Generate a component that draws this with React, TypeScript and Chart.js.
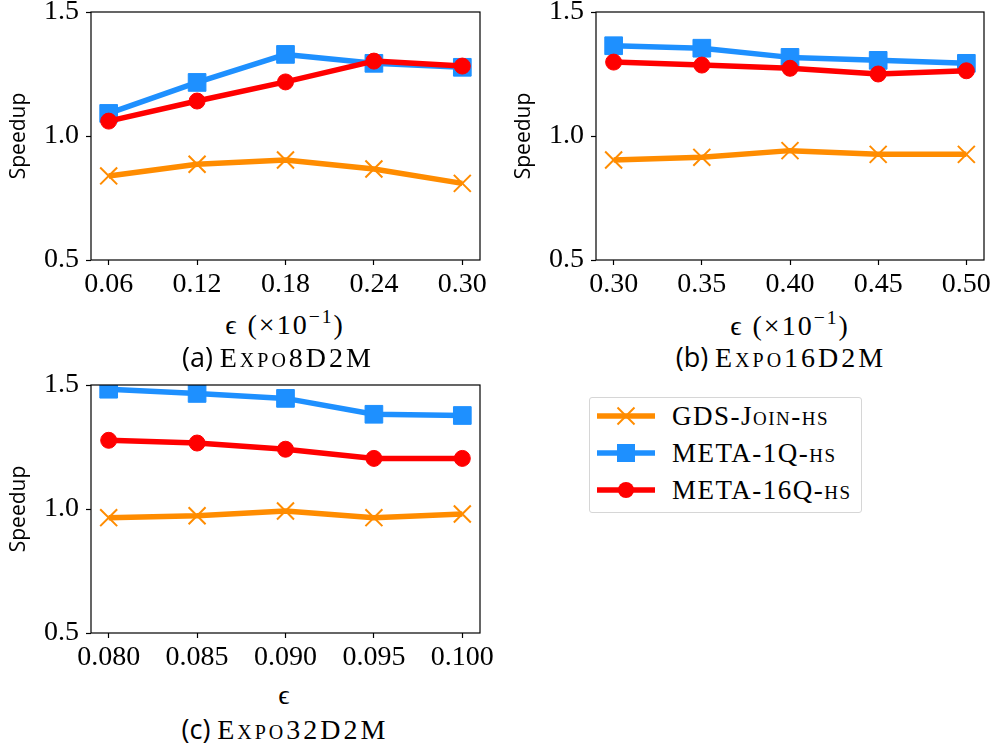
import React, { useEffect, useRef } from "react";
import { Chart, registerables } from "chart.js";
Chart.register(...registerables);

// ---------- data ----------
const SERIES = ["GDS-Join-hs", "META-1Q-hs", "META-16Q-hs"];
const COLORS = ["#FF8C00", "#1E90FF", "#FF0000"];
const Y_TICKS = [0.5, 1.0, 1.5];

const xA = [0.06, 0.12, 0.18, 0.24, 0.3];
const xLabelsA = ["0.06", "0.12", "0.18", "0.24", "0.30"];
const gdsA = [0.839, 0.886, 0.903, 0.867, 0.809];
const meta1A = [1.091, 1.216, 1.329, 1.293, 1.277];
const meta16A = [1.06, 1.141, 1.218, 1.302, 1.282];

const xB = [0.3, 0.35, 0.4, 0.45, 0.5];
const xLabelsB = ["0.30", "0.35", "0.40", "0.45", "0.50"];
const gdsB = [0.903, 0.914, 0.941, 0.926, 0.926];
const meta1B = [1.364, 1.354, 1.317, 1.305, 1.293];
const meta16B = [1.298, 1.286, 1.273, 1.25, 1.263];

const xC = [0.08, 0.085, 0.09, 0.095, 0.1];
const xLabelsC = ["0.080", "0.085", "0.090", "0.095", "0.100"];
const gdsC = [0.965, 0.973, 0.992, 0.965, 0.98];
const meta1C = [1.483, 1.466, 1.446, 1.382, 1.377];
const meta16C = [1.277, 1.266, 1.241, 1.204, 1.204];

// ---------- styling ----------
const TICK_FONT = { family: "'Liberation Serif', 'Times New Roman', serif", size: 28 };
const TEXT_SERIF = "'Liberation Serif', 'DejaVu Serif', serif";
const TEXT_SANS = "'Open Sans', sans-serif";

const framePlugin = {
  id: "frame",
  afterDatasetsDraw(chart: any) {
    const { ctx, chartArea: a } = chart;
    ctx.save();
    ctx.strokeStyle = "#000";
    ctx.lineWidth = 1.2;
    ctx.strokeRect(a.left, a.top, a.right - a.left, a.bottom - a.top);
    ctx.restore();
  },
};

type PanelProps = {
  left: number;
  top: number;
  width: number;
  height: number;
  plot: { left: number; top: number; right: number; bottom: number };
  titlePad: number;
  xs: number[];
  xLabels: string[];
  gds: number[];
  meta1: number[];
  meta16: number[];
};

function Panel(p: PanelProps) {
  const ref = useRef<HTMLCanvasElement | null>(null);
  useEffect(() => {
    if (!ref.current) return;
    const range = p.xs[p.xs.length - 1] - p.xs[0];
    const xmin = p.xs[0] - 0.05 * range;
    const xmax = p.xs[p.xs.length - 1] + 0.05 * range;
    const pts = (ys: number[]) => p.xs.map((x, i) => ({ x, y: ys[i] }));
    const grid = {
      display: true,
      drawOnChartArea: false,
      drawTicks: true,
      tickLength: 5,
      tickWidth: 1.2,
      tickColor: "#000",
    };
    const chart = new Chart(ref.current, {
      type: "line",
      data: {
        datasets: [
          {
            label: SERIES[0],
            data: pts(p.gds),
            borderColor: COLORS[0],
            backgroundColor: COLORS[0],
            borderWidth: 5.5,
            pointStyle: "crossRot",
            pointRadius: 12,
            pointBorderWidth: 2,
            pointBorderColor: COLORS[0],
            pointBackgroundColor: COLORS[0],
            borderJoinStyle: "round",
            tension: 0,
            clip: 0,
            order: 3,
          },
          {
            label: SERIES[1],
            data: pts(p.meta1),
            borderColor: COLORS[1],
            backgroundColor: COLORS[1],
            borderWidth: 5.5,
            pointStyle: "rect",
            pointRadius: 12.5,
            pointBorderWidth: 1,
            pointBorderColor: COLORS[1],
            pointBackgroundColor: COLORS[1],
            borderJoinStyle: "round",
            tension: 0,
            clip: 0,
            order: 2,
          },
          {
            label: SERIES[2],
            data: pts(p.meta16),
            borderColor: COLORS[2],
            backgroundColor: COLORS[2],
            borderWidth: 5.5,
            pointStyle: "circle",
            pointRadius: 8,
            pointBorderWidth: 1,
            pointBorderColor: COLORS[2],
            pointBackgroundColor: COLORS[2],
            borderJoinStyle: "round",
            tension: 0,
            clip: 0,
            order: 1,
          },
        ],
      },
      options: {
        animation: false,
        responsive: false,
        maintainAspectRatio: false,
        devicePixelRatio: 1,
        events: [],
        layout: {
          autoPadding: false,
          padding: { top: p.plot.top, right: p.width - p.plot.right, left: 0, bottom: 0 },
        },
        plugins: { legend: { display: false }, tooltip: { enabled: false } },
        scales: {
          x: {
            type: "linear",
            min: xmin,
            max: xmax,
            bounds: "data",
            afterBuildTicks: (s: any) => {
              s.ticks = p.xs.map((v) => ({ value: v }));
            },
            afterFit: (s: any) => {
              s.height = p.height - p.plot.bottom;
              s.paddingLeft = 0;
              s.paddingRight = 0;
            },
            ticks: {
              autoSkip: false,
              maxRotation: 0,
              padding: 3,
              color: "#000",
              font: TICK_FONT,
              callback: (_v: any, i: number) => p.xLabels[i],
            },
            grid,
            border: { display: false },
          },
          y: {
            type: "linear",
            min: 0.5,
            max: 1.5,
            bounds: "data",
            afterBuildTicks: (s: any) => {
              s.ticks = Y_TICKS.map((v) => ({ value: v }));
            },
            afterFit: (s: any) => {
              s.width = p.plot.left;
              s.paddingTop = 0;
              s.paddingBottom = 0;
            },
            ticks: {
              padding: 7,
              color: "#000",
              font: TICK_FONT,
              callback: (v: any) => Number(v).toFixed(1),
            },
            grid,
            border: { display: false },
            title: {
              display: true,
              text: "Speedup",
              color: "#000",
              font: { family: TEXT_SANS, size: 21 },
              padding: { top: p.titlePad, bottom: 0 },
            },
          },
        },
      },
      plugins: [framePlugin],
    } as any);
    return () => chart.destroy();
  }, []);
  return (
    <canvas
      ref={ref}
      width={p.width}
      height={p.height}
      style={{ position: "absolute", left: p.left, top: p.top, width: p.width, height: p.height }}
    />
  );
}

function Label(props: { cx: number; cy: number; children: any; style?: any }) {
  return (
    <div
      style={{
        position: "absolute",
        left: props.cx,
        top: props.cy,
        transform: "translate(-50%, -50%)",
        whiteSpace: "nowrap",
        lineHeight: 1,
        color: "#000",
        ...props.style,
      }}
    >
      {props.children}
    </div>
  );
}

const axisTitleStyle = { fontFamily: TEXT_SERIF, fontSize: 28, letterSpacing: 2 };
const captionSerif = { fontFamily: TEXT_SERIF, fontVariant: "small-caps", letterSpacing: 3 };

function AxisTitleExp() {
  return (
    <span>
      ϵ (×10
      <span style={{ fontSize: "0.7em", position: "relative", top: "-0.55em" }}>−1</span>)
    </span>
  );
}

function Caption(props: { tag: string; name: string }) {
  return (
    <span style={{ fontSize: 27 }}>
      <span style={{ fontFamily: TEXT_SANS, fontSize: 27 }}>({props.tag})</span>{" "}
      <span style={{ ...captionSerif, fontSize: 28 }}>{props.name}</span>
    </span>
  );
}

function LegendSample(props: { i: number }) {
  const c = COLORS[props.i];
  return (
    <svg width={58} height={24} style={{ display: "block" }}>
      <line x1={0} y1={12} x2={58} y2={12} stroke={c} strokeWidth={5.5} />
      {props.i === 0 && (
        <g stroke={c} strokeWidth={2}>
          <line x1={20.5} y1={3.5} x2={37.5} y2={20.5} />
          <line x1={20.5} y1={20.5} x2={37.5} y2={3.5} />
        </g>
      )}
      {props.i === 1 && <rect x={20} y={3} width={18} height={18} fill={c} />}
      {props.i === 2 && <circle cx={29} cy={12} r={8} fill={c} />}
    </svg>
  );
}

function Legend() {
  const rows = [415, 452, 489];
  return (
    <div
      style={{
        position: "absolute",
        left: 589,
        top: 397,
        width: 273,
        height: 116,
        border: "1px solid #d6d6d6",
        borderRadius: 3,
        boxSizing: "border-box",
        background: "#fff",
      }}
    >
      {SERIES.map((s, i) => (
        <div
          key={s}
          style={{
            position: "absolute",
            left: 7,
            top: rows[i] - 397 - 12,
            height: 24,
            display: "flex",
            alignItems: "center",
          }}
        >
          <LegendSample i={i} />
          <span
            style={{
              marginLeft: 17,
              fontFamily: TEXT_SERIF,
              fontSize: 27,
              fontVariant: "small-caps",
              letterSpacing: 1.5,
              lineHeight: 1,
              whiteSpace: "nowrap",
            }}
          >
            {s}
          </span>
        </div>
      ))}
    </div>
  );
}

export default function App() {
  return (
    <div style={{ position: "absolute", left: 0, top: 0, width: 995, height: 749, background: "#fff", overflow: "hidden" }}>
      <Panel
        left={0}
        top={0}
        width={495}
        height={300}
        plot={{ left: 91, top: 12, right: 480, bottom: 260 }}
        titlePad={6}
        xs={xA}
        xLabels={xLabelsA}
        gds={gdsA}
        meta1={meta1A}
        meta16={meta16A}
      />
      <Panel
        left={500}
        top={0}
        width={495}
        height={300}
        plot={{ left: 96, top: 12, right: 484, bottom: 260 }}
        titlePad={11}
        xs={xB}
        xLabels={xLabelsB}
        gds={gdsB}
        meta1={meta1B}
        meta16={meta16B}
      />
      <Panel
        left={0}
        top={370}
        width={495}
        height={300}
        plot={{ left: 91, top: 15, right: 480, bottom: 263 }}
        titlePad={6}
        xs={xC}
        xLabels={xLabelsC}
        gds={gdsC}
        meta1={meta1C}
        meta16={meta16C}
      />
      <Label cx={285} cy={325} style={axisTitleStyle}>
        <AxisTitleExp />
      </Label>
      <Label cx={790} cy={326} style={axisTitleStyle}>
        <AxisTitleExp />
      </Label>
      <Label cx={285} cy={695} style={axisTitleStyle}>
        ϵ
      </Label>
      <Label cx={278} cy={357}>
        <Caption tag="a" name="Expo8D2M" />
      </Label>
      <Label cx={781} cy={357}>
        <Caption tag="b" name="Expo16D2M" />
      </Label>
      <Label cx={285} cy={729}>
        <Caption tag="c" name="Expo32D2M" />
      </Label>
      <Legend />
    </div>
  );
}
